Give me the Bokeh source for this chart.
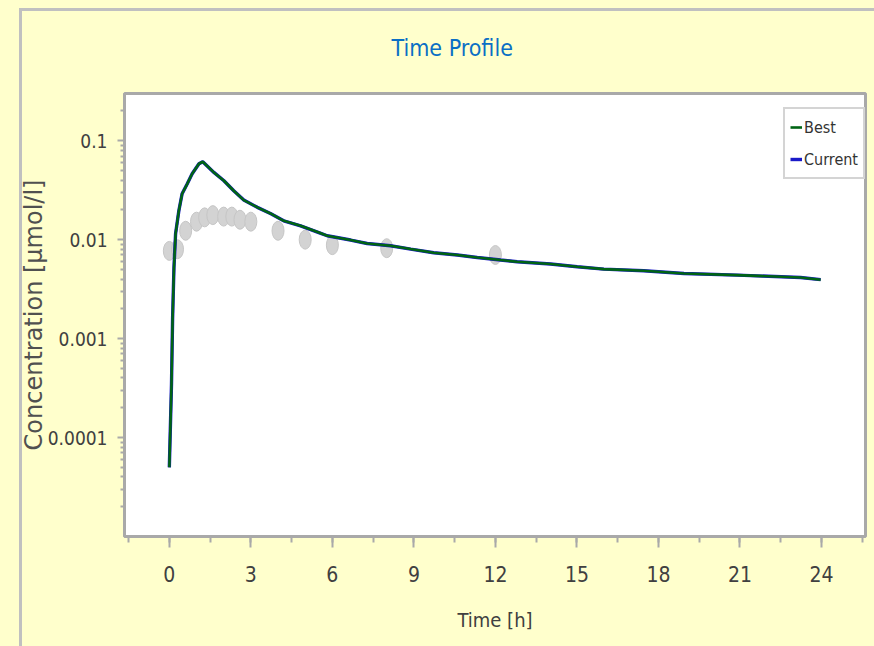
from bokeh.plotting import figure
from bokeh.models import Range1d, FixedTicker, SingleIntervalTicker, Legend, LegendItem
from bokeh.embed import file_html
from bokeh.resources import INLINE

# ---- data ----
time_best = [0.0, 0.08, 0.12, 0.17, 0.23, 0.35, 0.47, 0.66, 0.84, 1.09, 1.23,
             1.64, 2.01, 2.37, 2.74, 3.24, 3.72, 4.21, 4.83, 5.50, 5.81, 6.67,
             7.28, 8.14, 8.88, 9.73, 10.60, 11.33, 12.19, 12.80, 14.03, 15.01,
             15.99, 17.46, 18.94, 20.90, 23.23, 23.97]
conc_best = [5.0e-5, 3.5e-4, 1.6e-3, 5.2e-3, 0.0115, 0.0196, 0.0291, 0.0367,
             0.0463, 0.0585, 0.0613, 0.0478, 0.0394, 0.0312, 0.0251, 0.0212,
             0.0184, 0.0155, 0.0138, 0.0118, 0.01095, 0.00991, 0.00915,
             0.00868, 0.00803, 0.00737, 0.00699, 0.00661, 0.00622, 0.00598,
             0.00567, 0.00532, 0.00504, 0.00485, 0.00455, 0.00438, 0.00415,
             0.00394]
time_current = list(time_best)
conc_current = list(conc_best)

time_obs = [0.0, 0.3, 0.6, 1.0, 1.3, 1.6, 2.0, 2.3, 2.6, 3.0, 4.0, 5.0, 6.0,
            8.0, 12.0]
conc_obs = [0.0077, 0.0080, 0.0123, 0.0152, 0.0168, 0.0177, 0.0171, 0.0171,
            0.0159, 0.0152, 0.0123, 0.0100, 0.0088, 0.0082, 0.0070]

x_ticks_interval = 3
y_ticks = [0.0001, 0.001, 0.01, 0.1]
y_tick_labels = ["0.0001", "0.001", "0.01", "0.1"]
series_labels = ["Best", "Current"]

NARROW = "'Liberation Sans Narrow', 'DejaVu Sans Condensed', sans-serif"
GRAY = "#A9A9A9"
FRAME = "#C0C0C0"
TXT = "#404040"

# page background with the outer grey frame (drawn by CSS behind a transparent border)
page_bg = ("linear-gradient(%s,%s) 19px 8px / 3px 100%% no-repeat, "
           "linear-gradient(%s,%s) 19px 8px / 100%% 3px no-repeat, #FFFFCC"
           % (FRAME, FRAME, FRAME, FRAME))

p = figure(width=874, height=646, y_axis_type="log",
           x_range=Range1d(-1.65, 25.62), y_range=Range1d(1e-5, 0.3),
           output_backend="svg", toolbar_location=None,
           min_border_left=124, min_border_right=9,
           min_border_top=93, min_border_bottom=110,
           styles={"background": page_bg})

p.border_fill_color = "#FFFFCC"
p.border_fill_alpha = 0
p.background_fill_color = "#FFFFFF"
p.outline_line_color = GRAY
p.outline_line_width = 3
p.xgrid.visible = False
p.ygrid.visible = False

# title
p.title.text = "Time Profile"
p.title.text_font = NARROW
p.title.text_font_size = "23px"
p.title.text_font_style = "normal"
p.title.text_color = "#0B6FC5"
p.title.align = "left"
p.title.offset = 267
p.title.vertical_align = "bottom"
p.title.standoff = 65

# observed points
p.ellipse(time_obs, conc_obs, width=12, height=19,
          width_units="screen", height_units="screen",
          fill_color="#D3D3D3", line_color="#C6C6C6", line_width=1)

r_cur = p.line(time_current, conc_current, line_color="#1A1AC8", line_width=3.4)
r_best = p.line(time_best, conc_best, line_color="#006414", line_width=2.6)

legend = Legend(items=[LegendItem(label=series_labels[0], renderers=[r_best]),
                       LegendItem(label=series_labels[1], renderers=[r_cur])],
                location=(659, 357))
legend.border_line_color = GRAY
legend.border_line_width = 2
legend.background_fill_color = "#FFFFFF"
legend.background_fill_alpha = 1
legend.label_text_font = NARROW
legend.label_text_font_size = "16px"
legend.label_text_color = "#333333"
legend.glyph_width = 12
legend.glyph_height = 26
legend.label_height = 26
legend.label_standoff = 2
legend.padding = 5
legend.spacing = 6
legend.margin = 0
p.add_layout(legend)

# x axis
xa = p.xaxis[0]
xa.ticker = SingleIntervalTicker(interval=x_ticks_interval, num_minor_ticks=2)
xa.axis_label = "Time [h]"
xa.axis_label_text_font = NARROW
xa.axis_label_text_font_size = "20px"
xa.axis_label_text_font_style = "normal"
xa.axis_label_text_color = TXT
xa.axis_label_standoff = 23
xa.major_label_text_font = NARROW
xa.major_label_text_font_size = "21px"
xa.major_label_text_color = TXT
xa.major_label_standoff = 18
xa.axis_line_color = GRAY
xa.axis_line_width = 2
xa.major_tick_line_color = GRAY
xa.major_tick_line_width = 2
xa.minor_tick_line_color = GRAY
xa.minor_tick_line_width = 2
xa.major_tick_in = 0
xa.major_tick_out = 11
xa.minor_tick_in = 0
xa.minor_tick_out = 6

# y axis
minor = [k * d for d in [1e-5, 1e-4, 1e-3, 1e-2, 1e-1] for k in range(2, 10)]
ya = p.yaxis[0]
ya.ticker = FixedTicker(ticks=y_ticks, minor_ticks=minor)
ya.major_label_overrides = {t: l for t, l in zip(y_ticks, y_tick_labels)}
ya.axis_label = "Concentration [µmol/l]"
ya.axis_label_text_font = "DejaVu Sans"
ya.axis_label_text_font_size = "24px"
ya.axis_label_text_font_style = "normal"
ya.axis_label_text_color = "#505050"
ya.axis_label_standoff = -3
ya.major_label_text_font = NARROW
ya.major_label_text_font_size = "19px"
ya.major_label_text_color = TXT
ya.major_label_standoff = 10
ya.axis_line_color = GRAY
ya.axis_line_width = 2
ya.major_tick_line_color = GRAY
ya.major_tick_line_width = 2
ya.minor_tick_line_color = GRAY
ya.minor_tick_line_width = 2
ya.major_tick_in = 0
ya.major_tick_out = 7
ya.minor_tick_in = 0
ya.minor_tick_out = 4

open("out.html", "w").write(file_html(p, INLINE))
